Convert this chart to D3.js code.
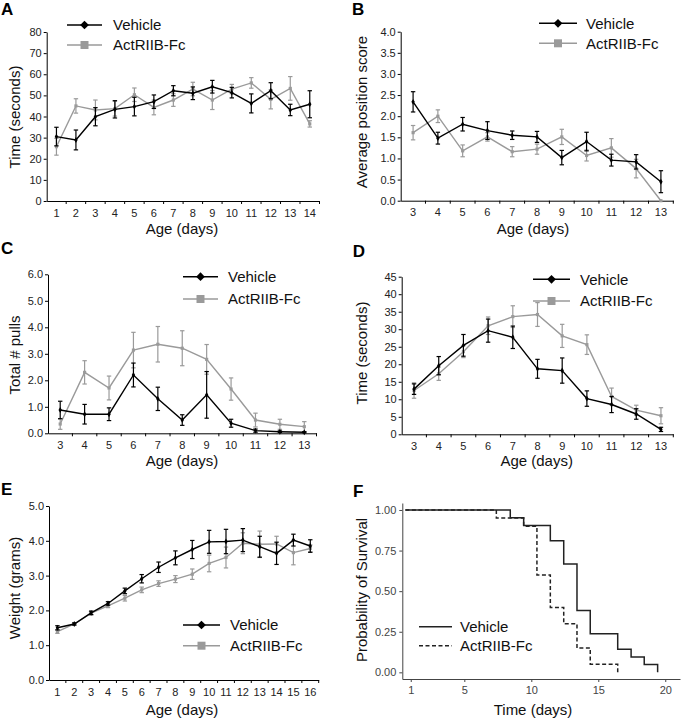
<!DOCTYPE html>
<html><head><meta charset="utf-8">
<script src="https://cdn.jsdelivr.net/npm/d3@7"></script>
<style>body{margin:0;background:#fff}svg{display:block;font-family:"Liberation Sans",Arial,sans-serif}</style>
</head><body><svg id="c" width="681" height="719"></svg>
<script>
const seriesNames = ["Vehicle", "ActRIIB-Fc"];
const seriesColors = ["#000000", "#9a9a9a"];

// Panel A: Time (seconds)
const daysA = [1,2,3,4,5,6,7,8,9,10,11,12,13,14];
const vehA    = [30.5,28.9,39.9,43.4,44.7,47.0,52.2,51.0,54.1,51.3,46.2,52.2,43.1,45.8];
const vehAErr = [4.4,4.7,4.3,4.1,4.4,3.2,2.4,3.0,3.0,2.5,4.5,3.8,2.7,6.4];
const actA    = [25.7,45.0,43.1,43.7,50.3,44.3,47.8,53.0,47.8,53.0,55.9,48.1,53.3,36.5];
const actAErr = [4.0,3.4,4.7,3.5,3.2,3.5,3.0,3.2,4.5,2.2,2.5,4.5,5.6,1.5];
const yTicksA = [0,10,20,30,40,50,60,70,80];

// Panel B: Average position score
const daysB = [3,4,5,6,7,8,9,10,11,12,13];
const vehB    = [2.34,1.48,1.81,1.66,1.55,1.51,1.02,1.40,0.96,0.92,0.45];
const vehBErr = [0.24,0.14,0.16,0.21,0.10,0.13,0.17,0.22,0.14,0.17,0.26];
const actB    = [1.61,2.00,1.18,1.51,1.16,1.22,1.51,1.07,1.25,0.76,0.0];
const actBErr = [0.17,0.15,0.14,0.10,0.12,0.12,0.18,0.13,0.22,0.22,0.0];
const yTicksB = [0,0.5,1.0,1.5,2.0,2.5,3.0,3.5,4.0];

// Panel C: Total # pulls
const daysC = [3,4,5,6,7,8,9,10,11,12,13];
const vehC    = [0.88,0.72,0.72,2.20,1.30,0.50,1.45,0.38,0.10,0.06,0.04];
const vehCErr = [0.33,0.37,0.24,0.45,0.44,0.20,0.88,0.15,0.06,0.03,0.02];
const actC    = [0.35,2.30,1.71,3.14,3.36,3.21,2.79,1.67,0.50,0.34,0.25];
const actCErr = [0.20,0.44,0.45,0.67,0.67,0.66,0.56,0.42,0.26,0.19,0.19];
const yTicksC = [0,1,2,3,4,5,6];

// Panel D: Time (seconds)
const daysD = [3,4,5,6,7,8,9,10,11,12,13];
const vehD    = [12.9,19.6,25.4,29.6,27.7,18.7,18.2,10.2,8.5,5.8,1.4];
const vehDErr = [1.5,2.6,3.1,3.3,3.2,2.7,3.6,2.2,2.3,1.5,0.6];
const actD    = [12.5,17.3,23.6,31.0,33.6,34.2,28.1,25.6,10.8,6.9,5.3];
const actDErr = [2.2,1.9,1.7,2.5,3.1,3.4,3.3,2.8,2.4,1.4,2.3];
const yTicksD = [0,5,10,15,20,25,30,35,40,45];

// Panel E: Weight (grams)
const daysE = [1,2,3,4,5,6,7,8,9,10,11,12,13,14,15,16];
const vehE    = [1.50,1.61,1.93,2.20,2.56,2.91,3.24,3.51,3.75,3.97,3.98,4.02,3.83,3.64,4.02,3.85];
const vehEErr = [0.06,0.03,0.05,0.05,0.08,0.12,0.15,0.20,0.26,0.33,0.35,0.33,0.30,0.32,0.17,0.18];
const actE    = [1.39,1.61,1.92,2.13,2.35,2.59,2.77,2.90,3.04,3.35,3.52,3.93,3.90,3.91,3.66,3.78];
const actEErr = [0.05,0.03,0.05,0.05,0.08,0.08,0.08,0.10,0.15,0.24,0.30,0.30,0.38,0.22,0.35,0.10];
const yTicksE = [0,1,2,3,4,5];

// Panel F: survival
const survVehTime = [0.6,8.43,9.43,11.42,12.42,13.41,14.4,16.45,17.45,18.43,19.43];
const survVehProb = [1.0,0.952,0.905,0.810,0.667,0.381,0.238,0.143,0.095,0.048,0.0];
const survActTime = [0.6,7.39,9.43,10.42,11.42,12.42,13.41,14.4,16.45];
const survActProb = [1.0,0.95,0.90,0.60,0.40,0.30,0.15,0.05,0.0];
const xTicksF = [1,5,10,15,20];
const yTicksF = [0,0.25,0.5,0.75,1.0];

const svg = d3.select("#c");

function panelLetter(t, x, y) {
  svg.append("text").attr("x", x).attr("y", y).attr("font-size", 17).attr("font-weight", "bold")
    .attr("fill", "#000").text(t);
}
function yTitle(t, x, y) {
  svg.append("text").attr("transform", `translate(${x},${y}) rotate(-90)`).attr("text-anchor", "middle")
    .attr("dy", "0.35em").attr("font-size", 15).attr("fill", "#111").text(t);
}
function xTitle(t, x, y) {
  svg.append("text").attr("x", x).attr("y", y).attr("text-anchor", "middle").attr("dy", "0.35em")
    .attr("font-size", 15).attr("fill", "#111").text(t);
}
function legend(x0, x1, y0, y1, tx, survival) {
  const ys = [y0, y1];
  seriesNames.forEach((name, i) => {
    const g = svg.append("g");
    const ln = g.append("line").attr("x1", x0).attr("x2", x1).attr("y1", ys[i]).attr("y2", ys[i])
      .attr("stroke-width", 1.5);
    if (survival) {
      ln.attr("stroke", "#222");
      if (i === 1) ln.attr("stroke-dasharray", "4,2.5");
    } else {
      ln.attr("stroke", seriesColors[i]);
      if (i === 0) {
        g.append("path").attr("d", d3.symbol(d3.symbolSquare, 38)())
          .attr("transform", `translate(${(x0 + x1) / 2},${ys[i]}) rotate(45)`).attr("fill", "#000");
      } else {
        g.append("path").attr("d", d3.symbol(d3.symbolSquare, 64)())
          .attr("transform", `translate(${(x0 + x1) / 2},${ys[i]})`).attr("fill", seriesColors[1]);
      }
    }
    g.append("text").attr("x", tx).attr("y", ys[i]).attr("dy", "0.36em").attr("font-size", 15)
      .attr("fill", "#111").text(name);
  });
}

function linePanel(o) {
  const x = d3.scaleBand().domain(o.days).range(o.xRange);
  const y = d3.scaleLinear().domain([0, o.yMax]).range(o.yRange);
  const bw = x.bandwidth();
  const g = svg.append("g");
  const ya = g.append("g").attr("transform", `translate(${o.xRange[0]},0)`)
    .call(d3.axisLeft(y).tickValues(o.yTicks).tickSize(3).tickSizeOuter(0).tickPadding(2).tickFormat(o.fmt));
  ya.selectAll("text").attr("font-size", 11).attr("fill", "#222").attr("font-family", null);
  ya.selectAll("line,path").attr("stroke", "#000");
  const xa = g.append("g").attr("transform", `translate(0,${o.yRange[0]})`)
    .call(d3.axisBottom(x).tickSize(0).tickPadding(8));
  xa.selectAll("text").attr("font-size", 11).attr("fill", "#222").attr("font-family", null);
  xa.select(".domain").attr("stroke", "#000");
  o.days.forEach((d) => {
    const xx = x(d) + bw;
    g.append("line").attr("x1", xx).attr("x2", xx).attr("y1", o.yRange[0]).attr("y2", o.yRange[0] + 3)
      .attr("stroke", "#000");
  });
  const series = [[o.veh, o.vehErr], [o.act, o.actErr]];
  [1, 0].forEach(si => {
    const vals = series[si][0], errs = series[si][1], col = seriesColors[si];
    const line = d3.line().x((v, i) => x(o.days[i]) + bw / 2).y(v => y(v));
    g.append("path").attr("d", line(vals)).attr("fill", "none").attr("stroke", col).attr("stroke-width", 1.4);
    vals.forEach((v, i) => {
      const cx = x(o.days[i]) + bw / 2;
      const e = errs[i];
      if (e > 0) {
        g.append("line").attr("x1", cx).attr("x2", cx).attr("y1", y(v - e)).attr("y2", y(v + e))
          .attr("stroke", col).attr("stroke-width", 1.2);
        [v - e, v + e].forEach(w => g.append("line").attr("x1", cx - 2.2).attr("x2", cx + 2.2)
          .attr("y1", y(w)).attr("y2", y(w)).attr("stroke", col).attr("stroke-width", 1.2));
      }
      g.append("path").attr("d", d3.symbol(si === 0 ? d3.symbolDiamond : d3.symbolSquare, 10)())
        .attr("transform", `translate(${cx},${y(v)})`).attr("fill", col);
    });
  });
}

linePanel({days: daysA, veh: vehA, vehErr: vehAErr, act: actA, actErr: actAErr, yMax: 80, yTicks: yTicksA,
  fmt: d3.format("d"), xRange: [46.7, 319.5], yRange: [201, 32]});
panelLetter("A", 1, 15); yTitle("Time (seconds)", 15, 117); xTitle("Age (days)", 182, 229);
legend(67, 102, 25, 45, 113);

linePanel({days: daysB, veh: vehB, vehErr: vehBErr, act: actB, actErr: actBErr, yMax: 4, yTicks: yTicksB,
  fmt: d3.format(".1f"), xRange: [400.7, 673.3], yRange: [200.7, 31.7]});
panelLetter("B", 352, 15); yTitle("Average position score", 361.7, 112); xTitle("Age (days)", 533, 229);
legend(539, 577, 23.3, 43.3, 586);

linePanel({days: daysC, veh: vehC, vehErr: vehCErr, act: actC, actErr: actCErr, yMax: 6, yTicks: yTicksC,
  fmt: d3.format(".1f"), xRange: [48, 316.5], yRange: [433.3, 274.3]});
panelLetter("C", 1, 254); yTitle("Total # pulls", 15, 355); xTitle("Age (days)", 182, 460.7);
legend(183, 218, 276.7, 299, 228);

linePanel({days: daysD, veh: vehD, vehErr: vehDErr, act: actD, actErr: actDErr, yMax: 45, yTicks: yTicksD,
  fmt: d3.format("d"), xRange: [401.7, 673.3], yRange: [434.3, 276.7]});
panelLetter("D", 352.7, 257); yTitle("Time (seconds)", 361.7, 353); xTitle("Age (days)", 536.7, 460.7);
legend(533, 570, 279.3, 301, 580);

linePanel({days: daysE, veh: vehE, vehErr: vehEErr, act: actE, actErr: actEErr, yMax: 5, yTicks: yTicksE,
  fmt: d3.format(".1f"), xRange: [49, 318.7], yRange: [680, 506]});
panelLetter("E", 1, 495); yTitle("Weight (grams)", 15, 588); xTitle("Age (days)", 182, 710);
legend(183, 220, 625, 645.7, 230);

(function () {
  const x = d3.scaleLinear().domain([0.37, 21.1]).range([402.3, 680]);
  const y = d3.scaleLinear().domain([-0.041, 1.043]).range([679, 503]);
  const g = svg.append("g");
  const ya = g.append("g").attr("transform", "translate(402.3,0)")
    .call(d3.axisLeft(y).tickValues(yTicksF).tickSize(3).tickSizeOuter(0).tickPadding(3).tickFormat(d3.format(".2f")));
  const xa = g.append("g").attr("transform", "translate(0,679)")
    .call(d3.axisBottom(x).tickValues(xTicksF).tickSize(3).tickSizeOuter(0).tickPadding(4).tickFormat(d3.format("d")));
  [ya, xa].forEach(a => {
    a.selectAll("text").attr("font-size", 11).attr("fill", "#444").attr("font-family", null);
    a.selectAll("line,path").attr("stroke", "#444");
  });
  const line = d3.line().curve(d3.curveStepAfter);
  g.append("path").attr("d", line(survVehTime.map((t, i) => [x(t), y(survVehProb[i])])))
    .attr("fill", "none").attr("stroke", "#222").attr("stroke-width", 1.5);
  g.append("path").attr("d", line(survActTime.map((t, i) => [x(t), y(survActProb[i])])))
    .attr("fill", "none").attr("stroke", "#222").attr("stroke-width", 1.5).attr("stroke-dasharray", "4,2.5");
})();
panelLetter("F", 353, 497); yTitle("Probability of Survival", 361.7, 590); xTitle("Time (days)", 533, 710);
legend(419, 452, 626.7, 645.7, 460, true);
</script></body></html>
